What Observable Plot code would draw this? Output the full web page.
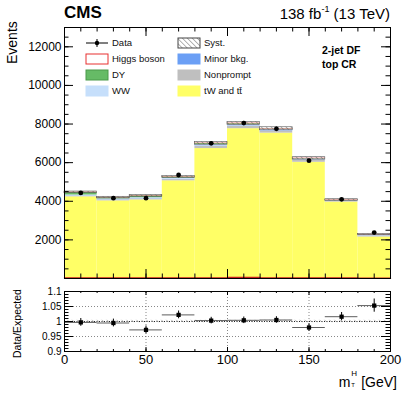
<!DOCTYPE html>
<html><head><meta charset="utf-8">
<script src="https://cdn.jsdelivr.net/npm/d3@7"></script>
<script src="https://cdn.jsdelivr.net/npm/@observablehq/plot@0.6"></script>
<style>
body{margin:0;background:#fff;font-family:"Liberation Sans",Arial,Helvetica,sans-serif;}
#wrap{position:relative;width:407px;height:395px;overflow:hidden;background:#fff}
#wrap svg{position:absolute;left:0}
.t{position:absolute;white-space:nowrap;color:#000;line-height:1}
</style></head><body><div id="wrap"></div>
<script>
// ---- data ----
const binLow = [0, 20, 40, 60, 80, 100, 120, 140, 160, 180];
const binWidth = 20;
const tWtt      = [4230, 4020, 4070, 5060, 6730, 7760, 7530, 6020, 3960, 2150];
const nonprompt = [40, 50, 50, 60, 110, 120, 110, 100, 50, 60];
const minorBkg  = [15, 15, 15, 20, 25, 25, 20, 15, 10, 10];
const ww        = [40, 40, 50, 60, 80, 80, 70, 60, 30, 40];
const dy        = [130, 60, 90, 60, 50, 40, 20, 20, 10, 10];
const higgs     = [5, 5, 5, 5, 5, 10, 5, 5, 5, 3];
const dataVals  = [4430, 4160, 4160, 5360, 7000, 8050, 7750, 6100, 4100, 2380];
const ratioVals = [0.997, 0.995, 0.972, 1.022, 1.003, 1.004, 1.005, 0.980, 1.016, 1.053];
const ratioErr  = [0.013, 0.013, 0.013, 0.013, 0.011, 0.011, 0.011, 0.013, 0.014, 0.022];
const systFrac  = 0.01;
const yTicksTop = [2000, 4000, 6000, 8000, 10000, 12000];
const yTicksBot = [0.9, 0.95, 1, 1.05, 1.1];
const xTicks    = [0, 50, 100, 150, 200];

const components = [
  {name: "tW and tt\u0304", vals: tWtt,      fill: "#ffff66"},
  {name: "Nonprompt",      vals: nonprompt, fill: "#bfbfbf"},
  {name: "Minor bkg.",     vals: minorBkg,  fill: "#6b9ff5"},
  {name: "WW",             vals: ww,        fill: "#c6dffb"},
  {name: "DY",             vals: dy,        fill: "#66bb66"},
  {name: "Higgs boson",    vals: higgs,     fill: "none"}
];

// stack
const stackRows = [];
const totals = binLow.map(() => 0);
for (const c of components) {
  binLow.forEach((x, i) => {
    const y1 = totals[i], y2 = totals[i] + c.vals[i];
    totals[i] = y2;
    stackRows.push({x1: x, x2: x + binWidth, y1, y2, fill: c.fill, name: c.name});
  });
}
const bins = binLow.map((x, i) => ({x1: x, x2: x + binWidth, c: x + binWidth / 2, tot: totals[i],
  data: dataVals[i], err: Math.sqrt(dataVals[i]), r: ratioVals[i], re: ratioErr[i], h: higgs[i] * 6}));

const W = 407, ML = 64, MR = 17;
const innerW = W - ML - MR;
const font = '"Liberation Sans",Arial,Helvetica,sans-serif';
const wrap = document.getElementById("wrap");

function range(a, b, s) { const o = []; for (let v = a; v <= b + 1e-9; v += s) o.push(+v.toFixed(4)); return o; }
function addHatch(svg, id, color) {
  const defs = d3.select(svg).insert("defs", ":first-child");
  const p = defs.append("pattern").attr("id", id).attr("patternUnits", "userSpaceOnUse")
    .attr("width", 3.5).attr("height", 3.5).attr("patternTransform", "rotate(-45)");
  p.append("line").attr("x1", 0).attr("y1", 0).attr("x2", 0).attr("y2", 3.5)
    .attr("stroke", color).attr("stroke-width", 0.9);
}

// ---- top panel ----
const H1 = 285, MT1 = 27, MB1 = 7;
const innerH1 = H1 - MT1 - MB1;
const topPlot = Plot.plot({
  width: W, height: H1, marginTop: MT1, marginBottom: MB1, marginLeft: ML, marginRight: MR,
  style: {fontFamily: font, background: "transparent", overflow: "visible"},
  x: {domain: [0, 200], axis: null},
  y: {domain: [0, 13000], axis: null},
  marks: [
    Plot.rectY(stackRows.filter(d => d.fill !== "none"), {x1: "x1", x2: "x2", y1: "y1", y2: "y2", fill: "fill"}),
    Plot.rectY(stackRows.filter(d => d.fill === "none"), {x1: "x1", x2: "x2", y1: "y1", y2: "y2", fill: "none", stroke: "#e86a6a", strokeWidth: 0.5}),
    Plot.rectY(bins, {x1: "x1", x2: "x2", y1: d => d.tot * (1 - systFrac), y2: d => d.tot * (1 + systFrac), fill: "url(#hatchTop)", stroke: "#555", strokeWidth: 0.6}),
    Plot.lineY(bins.flatMap(d => [{x: d.x1, y: d.h}, {x: d.x2, y: d.h}]), {x: "x", y: "y", stroke: "#c81e1e", strokeWidth: 1.4}),
    Plot.ruleX(bins, {x: "c", y1: d => d.data - d.err, y2: d => d.data + d.err, stroke: "black", strokeWidth: 1}),
    Plot.dot(bins, {x: "c", y: "data", r: 2.4, fill: "black"}),
    // ticks
    Plot.tickY(yTicksTop, {y: d => d, insetRight: innerW - 9, stroke: "black"}),
    Plot.tickY(range(500, 12500, 500), {y: d => d, insetRight: innerW - 4.5, stroke: "black"}),
    Plot.tickY(yTicksTop, {y: d => d, insetLeft: innerW - 9, stroke: "black"}),
    Plot.tickY(range(500, 12500, 500), {y: d => d, insetLeft: innerW - 4.5, stroke: "black"}),
    Plot.tickX(xTicks, {x: d => d, insetBottom: innerH1 - 9, stroke: "black"}),
    Plot.tickX(range(10, 190, 10), {x: d => d, insetBottom: innerH1 - 4.5, stroke: "black"}),
    Plot.tickX(xTicks, {x: d => d, insetTop: innerH1 - 9, stroke: "black"}),
    Plot.tickX(range(10, 190, 10), {x: d => d, insetTop: innerH1 - 4.5, stroke: "black"}),
    Plot.axisY({ticks: yTicksTop, tickSize: 0, tickPadding: 3, tickFormat: d => String(d), fontSize: 12, label: null}),
    Plot.frame({stroke: "black"})
  ]
});
addHatch(topPlot, "hatchTop", "#555");
topPlot.style.top = "0px";
wrap.appendChild(topPlot);

// ---- ratio panel ----
const top2 = 278, H2 = 117, MT2 = 13, MB2 = 44;
const innerH2 = H2 - MT2 - MB2;
const botPlot = Plot.plot({
  width: W, height: H2, marginTop: MT2, marginBottom: MB2, marginLeft: ML, marginRight: MR,
  style: {fontFamily: font, background: "transparent", overflow: "visible"},
  x: {domain: [0, 200], axis: null},
  y: {domain: [0.9, 1.1], axis: null},
  marks: [
    Plot.ruleX([50, 100, 150], {stroke: "#555", strokeWidth: 0.7, strokeDasharray: "1,2"}),
    Plot.ruleY([0.95, 1.05], {stroke: "#555", strokeWidth: 0.7, strokeDasharray: "1,2"}),
    Plot.rectY(bins, {x1: "x1", x2: "x2", y1: 1 - 0.004, y2: 1 + 0.004, fill: "url(#hatchBot)"}),
    Plot.ruleY([1], {stroke: "#222", strokeWidth: 1, strokeDasharray: "1,1.5"}),
    Plot.ruleY(bins, {y: "r", x1: "x1", x2: "x2", stroke: "#333", strokeWidth: 0.8}),
    Plot.ruleX(bins, {x: "c", y1: d => d.r - d.re, y2: d => d.r + d.re, stroke: "black", strokeWidth: 1}),
    Plot.dot(bins, {x: "c", y: "r", r: 2.4, fill: "black", symbol: "square"}),
    Plot.tickY(yTicksBot, {y: d => d, insetRight: innerW - 9, stroke: "black"}),
    Plot.tickY(range(0.91, 1.09, 0.01), {y: d => d, insetRight: innerW - 4.5, stroke: "black"}),
    Plot.tickY(yTicksBot, {y: d => d, insetLeft: innerW - 9, stroke: "black"}),
    Plot.tickY(range(0.91, 1.09, 0.01), {y: d => d, insetLeft: innerW - 4.5, stroke: "black"}),
    Plot.tickX(xTicks, {x: d => d, insetBottom: innerH2 - 4, stroke: "black"}),
    Plot.tickX(range(10, 190, 10), {x: d => d, insetBottom: innerH2 - 2, stroke: "black"}),
    Plot.tickX(xTicks, {x: d => d, insetTop: innerH2 - 4, stroke: "black"}),
    Plot.tickX(range(10, 190, 10), {x: d => d, insetTop: innerH2 - 2, stroke: "black"}),
    Plot.axisY({ticks: yTicksBot, tickSize: 0, tickPadding: 3, tickFormat: d => String(d), fontSize: 10, label: null}),
    Plot.axisX({ticks: xTicks, tickSize: 0, tickPadding: 3, tickFormat: d => String(d), fontSize: 13, label: null}),
    Plot.frame({stroke: "black"})
  ]
});
addHatch(botPlot, "hatchBot", "#888");
botPlot.style.top = top2 + "px";
wrap.appendChild(botPlot);

// ---- legend ----
const leg = d3.create("svg").attr("width", W).attr("height", 110).style("top", "0px").style("font-family", font);
addHatch(leg.node(), "hatchLeg", "#555");
const col1 = [
  {name: "Data", type: "data"},
  {name: "Higgs boson", type: "box", fill: "white", stroke: "#e83030"},
  {name: "DY", type: "box", fill: "#66bb66", stroke: "#4a9a4a"},
  {name: "WW", type: "box", fill: "#c6dffb", stroke: "#c6dffb"}
];
const col2 = [
  {name: "Syst.", type: "box", fill: "url(#hatchLeg)", stroke: "#444"},
  {name: "Minor bkg.", type: "box", fill: "#6b9ff5", stroke: "#6b9ff5"},
  {name: "Nonprompt", type: "box", fill: "#bfbfbf", stroke: "#bfbfbf"},
  {name: "tW and tt\u0304", type: "box", fill: "#ffff66", stroke: "#ffff66"}
];
const rowsY = [43, 59, 75, 91];
[[col1, 86], [col2, 178]].forEach(([col, bx]) => {
  col.forEach((e, i) => {
    const y = rowsY[i];
    if (e.type === "data") {
      leg.append("line").attr("x1", bx).attr("x2", bx + 22).attr("y1", y).attr("y2", y).attr("stroke", "black");
      leg.append("line").attr("x1", bx + 11).attr("x2", bx + 11).attr("y1", y - 4).attr("y2", y + 4).attr("stroke", "black");
      leg.append("circle").attr("cx", bx + 11).attr("cy", y).attr("r", 2.2).attr("fill", "black");
    } else {
      leg.append("rect").attr("x", bx).attr("y", y - 5).attr("width", 22).attr("height", 10)
        .attr("fill", e.fill).attr("stroke", e.stroke).attr("stroke-width", 1);
    }
    leg.append("text").attr("x", bx + 26).attr("y", y + 3.3).attr("font-size", 9.5).attr("fill", "#111").text(e.name);
  });
});
wrap.appendChild(leg.node());

// ---- texts ----
function addText(html, css) {
  const d = document.createElement("div");
  d.className = "t"; d.innerHTML = html; d.style.cssText += css; wrap.appendChild(d);
  return d;
}
addText("CMS", "left:64px;top:4px;font-size:17px;font-weight:bold;");
addText('138 fb<sup style="font-size:9px;vertical-align:7px">-1</sup> (13 TeV)', "right:17px;top:5px;font-size:15px;");
addText("2-jet DF", "left:322px;top:45px;font-size:10.5px;font-weight:bold;");
addText("top CR", "left:322px;top:59px;font-size:10.5px;font-weight:bold;");
addText("Events", "left:5px;top:20px;font-size:14px;transform-origin:0 0;transform:rotate(-90deg) translate(-44px,0);");
addText("Data/Expected", "left:12px;top:358px;font-size:10.5px;transform-origin:0 0;transform:rotate(-90deg);");
addText('m<span style="display:inline-block;position:relative;width:7px;height:10px"><span style="position:absolute;left:1px;top:-7px;font-size:8px">H</span><span style="position:absolute;left:1px;top:5px;font-size:6px">T</span></span> [GeV]', "right:10px;top:375px;font-size:14px;");
</script></body></html>
